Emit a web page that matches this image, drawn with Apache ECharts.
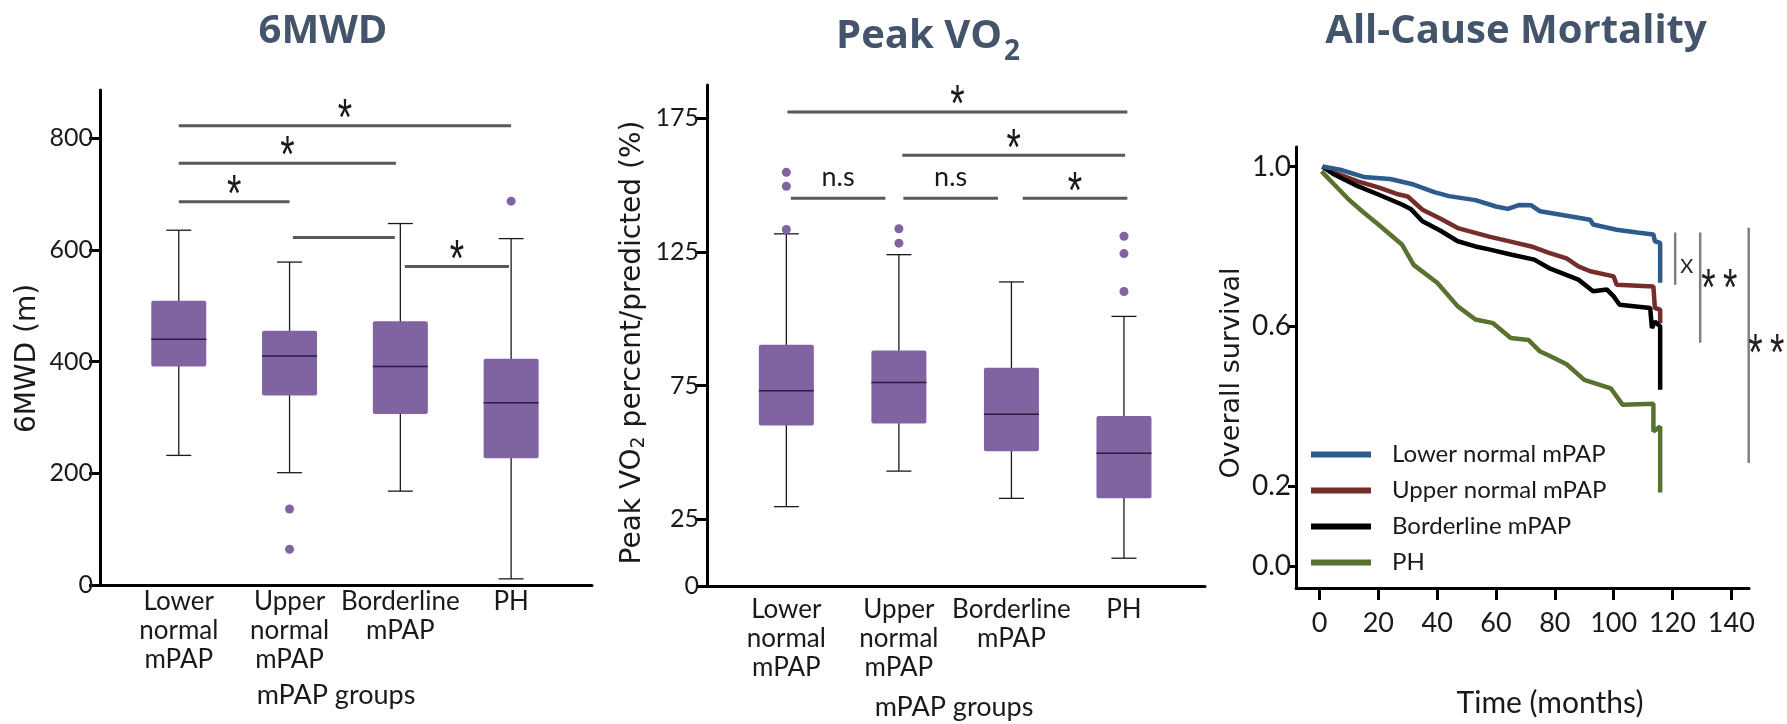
<!DOCTYPE html>
<html>
<head>
<meta charset="utf-8">
<title>6MWD, Peak VO2 and All-Cause Mortality by mPAP group</title>
<script src="https://cdn.jsdelivr.net/npm/echarts@6.0.0/dist/echarts.min.js"></script>
<style>
  html, body { margin: 0; padding: 0; background: #fff; }
  #chart { width: 1787px; height: 724px; }
</style>
</head>
<body>
<div id="chart"></div>
<script>
// ---- data ----
const groups = ["Lower\nnormal\nmPAP", "Upper\nnormal\nmPAP", "Borderline\nmPAP", "PH"];
const groupPos = [0, 1, 2, 3];

// 6MWD: [group, min, Q1, median, Q3, max]
const walkBoxes = [
  [0, 232, 391, 440, 509, 635],
  [1, 201, 339, 410, 455, 578],
  [2, 168, 306, 391, 472, 647],
  [3, 11, 227, 326, 405, 620]
];
const walkOutliers = [[1, 136], [1, 64], [3, 687]];
// significance bars: [from, to, y]
const walkBars = [[0, 3, 822], [0, 1.96, 755], [0, 1, 686], [1.03, 1.95, 622], [2.04, 2.98, 570]];
const walkBarLabels = ["*", "*", "*", "", "*"];
const walkTicks = [0, 200, 400, 600, 800];

// Peak VO2 % predicted
const vo2Boxes = [
  [0, 29.7, 60.1, 73.1, 90.3, 131.8],
  [1, 43, 60.8, 76.2, 88.1, 124],
  [2, 32.8, 50.4, 64.3, 81.7, 113.8],
  [3, 10.4, 32.8, 49.7, 63.6, 100.9]
];
const vo2Outliers = [[0, 133.4], [0, 149.6], [0, 154.8], [1, 133.7], [1, 128.3], [3, 130.9], [3, 124.4], [3, 110.2]];
const vo2Bars = [[0.01, 3.03, 177.4], [1.03, 3.01, 161.2], [0.04, 0.88, 145.1], [1.04, 1.88, 145.1], [2.1, 3.03, 145.1]];
const vo2BarLabels = ["*", "*", "n.s", "n.s", "*"];
const vo2Ticks = [0, 25, 75, 125, 175];

// Kaplan-Meier curves: [months, survival]
const survNames = ["Lower normal mPAP", "Upper normal mPAP", "Borderline mPAP", "PH"];
const survLower = [[1, 1.0], [7, 0.992], [15, 0.974], [24, 0.969], [32, 0.955], [39, 0.936], [44, 0.926], [53, 0.916],
  [60, 0.9], [64, 0.894], [68, 0.904], [72, 0.903], [75, 0.888], [84, 0.877], [92, 0.867], [93, 0.855], [101, 0.842],
  [108, 0.835], [113.5, 0.83], [114, 0.813], [115.8, 0.809], [115.8, 0.709]];
const survUpper = [[1, 1.0], [5, 0.985], [13, 0.963], [20, 0.948], [27, 0.93], [30, 0.925], [35, 0.892], [41, 0.87],
  [47, 0.846], [58, 0.824], [65, 0.812], [72, 0.8], [78, 0.784], [84, 0.77], [88, 0.75], [92, 0.738], [100, 0.725],
  [101, 0.704], [113.5, 0.7], [114, 0.646], [115.8, 0.642], [115.8, 0.608]];
const survBorder = [[1, 1.0], [5, 0.98], [13, 0.951], [20, 0.93], [28, 0.905], [31, 0.894], [35, 0.863], [41, 0.84],
  [47, 0.813], [53, 0.8], [58, 0.792], [65, 0.78], [73, 0.767], [78, 0.746], [88, 0.717], [93, 0.688], [97.7, 0.692],
  [100, 0.675], [102, 0.654], [112.4, 0.646], [113, 0.596], [114, 0.612], [115.8, 0.6], [115.8, 0.441]];
const survPH = [[0.7, 0.988], [5, 0.955], [10, 0.917], [15, 0.885], [20, 0.855], [28, 0.805], [32, 0.754], [40, 0.709],
  [47, 0.65], [53, 0.617], [59, 0.608], [65, 0.571], [71, 0.566], [75, 0.537], [78, 0.527], [84, 0.505], [90, 0.466],
  [99, 0.445], [103, 0.404], [113.5, 0.406], [113.5, 0.337], [115.8, 0.349], [115.8, 0.184]];
const survColors = ["#2d5b8e", "#772c2c", "#000000", "#58722f"];
const survXTicks = [0, 20, 40, 60, 80, 100, 120, 140];
const survYTicks = [0, 0.2, 0.6, 1.0];
// comparison brackets: [x, yTop, yBottom, labelX, labelY]
const survBrackets = [[120.9, 0.835, 0.704, 124.8, 0.75], [129.4, 0.835, 0.559, 135.9, 0.717], [145.9, 0.847, 0.258, 151.9, 0.554]];
const survBracketLabels = ["X", "*\u2009*", "*\u2009*"];

// ---- chart ----
const TXT = "Lato, 'Liberation Sans', sans-serif";
const WIDE = "'DejaVu Sans', sans-serif";
const TITLE_COLOR = "#44546a";
const BOX_COLOR = "#8064a2";
const INK = "#1a1a1a";

const chart = echarts.init(document.getElementById("chart"));

function boxItem(params, api) {
  const x = api.value(0);
  const lo = api.coord([x, api.value(1)]);
  const q1 = api.coord([x, api.value(2)]);
  const md = api.coord([x, api.value(3)]);
  const q3 = api.coord([x, api.value(4)]);
  const hi = api.coord([x, api.value(5)]);
  const cx = lo[0], bw = 55, cw = 25;
  const st = { stroke: INK, lineWidth: 1.3 };
  return {
    type: "group",
    children: [
      { type: "line", shape: { x1: cx, y1: lo[1], x2: cx, y2: hi[1] }, style: st },
      { type: "line", shape: { x1: cx - cw / 2, y1: lo[1], x2: cx + cw / 2, y2: lo[1] }, style: st },
      { type: "line", shape: { x1: cx - cw / 2, y1: hi[1], x2: cx + cw / 2, y2: hi[1] }, style: st },
      { type: "rect", shape: { x: cx - bw / 2, y: q3[1], width: bw, height: q1[1] - q3[1], r: 2 }, style: { fill: BOX_COLOR } },
      { type: "line", shape: { x1: cx - bw / 2, y1: md[1], x2: cx + bw / 2, y2: md[1] }, style: { stroke: "#2b1d3d", lineWidth: 1.5 } }
    ]
  };
}

function barItem(labels) {
  return function (params, api) {
    const a = api.coord([api.value(0), api.value(2)]);
    const b = api.coord([api.value(1), api.value(2)]);
    const t = labels[params.dataIndex];
    const star = t.indexOf("*") >= 0;
    return {
      type: "group",
      children: [
        { type: "line", shape: { x1: a[0], y1: a[1], x2: b[0], y2: b[1] }, style: { stroke: "#595959", lineWidth: 3 } },
        {
          type: "text", x: (a[0] + b[0]) / 2, y: a[1] - (star ? 5 : 21), scaleY: star ? 1.4 : 1,
          style: { text: t, fill: INK, font: star ? "37px 'Liberation Sans'" : "27px " + TXT, align: "center", verticalAlign: "middle" }
        }
      ]
    };
  };
}

function bracketItem(params, api) {
  const a = api.coord([api.value(0), api.value(1)]);
  const b = api.coord([api.value(0), api.value(2)]);
  const l = api.coord([api.value(3), api.value(4)]);
  const t = survBracketLabels[params.dataIndex];
  const star = t.indexOf("*") >= 0;
  return {
    type: "group",
    children: [
      { type: "line", shape: { x1: a[0], y1: a[1], x2: b[0], y2: b[1] }, style: { stroke: "#808080", lineWidth: 2.5 } },
      {
        type: "text", x: l[0], y: l[1] + (star ? 11 : 0), scaleY: star ? 1.4 : 1,
        style: { text: t, fill: "#222", font: star ? "37px 'Liberation Sans'" : "20px " + TXT, align: "center", verticalAlign: "middle" }
      }
    ]
  };
}

const tickLabel = { fontFamily: TXT, fontSize: 25, color: INK };

function catXAxis(gridIndex, min, max, nameGap, namePad) {
  return {
    type: "value", gridIndex: gridIndex, min: min, max: max,
    name: "mPAP groups", nameLocation: "middle", nameGap: nameGap,
    nameTextStyle: { fontFamily: TXT, fontSize: 27, color: INK, padding: namePad },
    axisLine: { show: true, onZero: false, lineStyle: { color: "#000", width: 3 } },
    axisTick: { show: false },
    splitLine: { show: false },
    axisLabel: {
      customValues: groupPos, margin: gridIndex === 0 ? 2 : 9,
      fontFamily: TXT, fontSize: 26, lineHeight: 29, color: INK,
      formatter: function (v) { return groups[Math.round(v)]; }
    }
  };
}

chart.setOption({
  animation: false,
  backgroundColor: "#fff",
  title: [
    { text: "6MWD", left: 318, top: 7, textAlign: "center",
      textStyle: { fontFamily: "Open Sans", fontWeight: "bold", fontSize: 40, color: TITLE_COLOR } },
    { text: "{n|Peak VO}{s|2}", left: 923, top: 7, textAlign: "center",
      textStyle: { rich: {
        n: { fontFamily: "Open Sans", fontWeight: "bold", fontSize: 40, color: TITLE_COLOR, lineHeight: 50 },
        s: { fontFamily: "Open Sans", fontWeight: "bold", fontSize: 28, color: TITLE_COLOR, lineHeight: 50, padding: [30, 0, 0, 2] }
      } } },
    { text: "All-Cause Mortality", left: 1511, top: 7, textAlign: "center",
      textStyle: { fontFamily: "Open Sans", fontWeight: "bold", fontSize: 40, color: TITLE_COLOR } }
  ],
  grid: [
    { left: 100, top: 90, width: 492, height: 495, outerBoundsMode: "none" },
    { left: 707, top: 85, width: 498, height: 501, outerBoundsMode: "none" },
    { left: 1296, top: 147, width: 453, height: 441, outerBoundsMode: "none" }
  ],
  xAxis: [
    catXAxis(0, -0.711, 3.73, 97, [0, 20, 0, 0]),
    catXAxis(1, -0.705, 3.72, 108, [0, 4, 0, 0]),
    {
      type: "value", gridIndex: 2, min: -8, max: 146,
      name: "Time (months)", nameLocation: "middle", nameGap: 100,
      nameTextStyle: { fontFamily: TXT, fontSize: 30, color: INK, padding: [0, 0, 0, 55] },
      axisLine: { show: true, onZero: false, lineStyle: { color: "#000", width: 3 } },
      axisTick: { show: true, customValues: survXTicks, length: 12, lineStyle: { color: "#000", width: 3 } },
      axisLabel: { customValues: survXTicks, margin: 22, fontFamily: TXT, fontSize: 27, color: INK },
      splitLine: { show: false }
    }
  ],
  yAxis: [
    {
      type: "value", gridIndex: 0, min: 0, max: 886,
      name: "6MWD (m)", nameLocation: "middle", nameRotate: 90, nameGap: 58,
      nameTextStyle: { fontFamily: WIDE, fontSize: 28, color: INK, padding: [0, 42, 0, 0] },
      axisLine: { show: true, onZero: false, lineStyle: { color: "#000", width: 3 } },
      axisTick: { show: true, customValues: walkTicks, length: 11, lineStyle: { color: "#000", width: 3 } },
      axisLabel: Object.assign({ customValues: walkTicks, margin: 7 }, tickLabel),
      splitLine: { show: false }
    },
    {
      type: "value", gridIndex: 1, min: 0, max: 187.5,
      name: "Peak VO{s|2} percent/predicted (%)", nameLocation: "middle", nameRotate: 90, nameGap: 58,
      nameTextStyle: { fontFamily: WIDE, fontSize: 28, color: INK, padding: [0, 14, 0, 0],
        rich: { s: { fontFamily: WIDE, fontSize: 19, color: INK, padding: [14, 0, 0, 0] } } },
      axisLine: { show: true, onZero: false, lineStyle: { color: "#000", width: 3 } },
      axisTick: { show: true, customValues: vo2Ticks, length: 11, lineStyle: { color: "#000", width: 3 } },
      axisLabel: Object.assign({ customValues: vo2Ticks, margin: 8 }, tickLabel),
      splitLine: { show: false }
    },
    {
      type: "value", gridIndex: 2, min: -0.055, max: 1.049,
      name: "Overall survival", nameLocation: "middle", nameRotate: 90, nameGap: 51,
      nameTextStyle: { fontFamily: WIDE, fontSize: 27, color: INK, padding: [0, 11, 0, 0] },
      axisLine: { show: true, onZero: false, lineStyle: { color: "#000", width: 3 } },
      axisTick: { show: true, customValues: survYTicks, length: 8, lineStyle: { color: "#000", width: 3 } },
      axisLabel: { customValues: survYTicks, margin: 5, fontFamily: TXT, fontSize: 28, color: INK,
        formatter: function (v) { return v.toFixed(1); } },
      splitLine: { show: false }
    }
  ],
  legend: {
    data: survNames, orient: "vertical", left: 1306, top: 436,
    icon: "rect", itemWidth: 60, itemHeight: 6, itemGap: 9,
    textStyle: { fontFamily: TXT, fontSize: 24, lineHeight: 27, color: INK, padding: [0, 0, 0, 16] }
  },
  series: [
    { type: "custom", xAxisIndex: 0, yAxisIndex: 0, renderItem: boxItem, data: walkBoxes, encode: { x: 0, y: [1, 2, 3, 4, 5] }, z: 2 },
    { type: "scatter", xAxisIndex: 0, yAxisIndex: 0, data: walkOutliers, symbolSize: 9, itemStyle: { color: BOX_COLOR, opacity: 1 }, z: 3 },
    { type: "custom", xAxisIndex: 0, yAxisIndex: 0, renderItem: barItem(walkBarLabels), data: walkBars, encode: { x: [0, 1], y: 2 }, z: 3 },

    { type: "custom", xAxisIndex: 1, yAxisIndex: 1, renderItem: boxItem, data: vo2Boxes, encode: { x: 0, y: [1, 2, 3, 4, 5] }, z: 2 },
    { type: "scatter", xAxisIndex: 1, yAxisIndex: 1, data: vo2Outliers, symbolSize: 9, itemStyle: { color: BOX_COLOR, opacity: 1 }, z: 3 },
    { type: "custom", xAxisIndex: 1, yAxisIndex: 1, renderItem: barItem(vo2BarLabels), data: vo2Bars, encode: { x: [0, 1], y: 2 }, z: 3 },

    { name: survNames[0], type: "line", xAxisIndex: 2, yAxisIndex: 2, data: survLower, showSymbol: false, color: survColors[0], lineStyle: { width: 4.5, color: survColors[0] }, z: 4 },
    { name: survNames[1], type: "line", xAxisIndex: 2, yAxisIndex: 2, data: survUpper, showSymbol: false, color: survColors[1], lineStyle: { width: 4.5, color: survColors[1] }, z: 3 },
    { name: survNames[2], type: "line", xAxisIndex: 2, yAxisIndex: 2, data: survBorder, showSymbol: false, color: survColors[2], lineStyle: { width: 4.5, color: survColors[2] }, z: 3 },
    { name: survNames[3], type: "line", xAxisIndex: 2, yAxisIndex: 2, data: survPH, showSymbol: false, color: survColors[3], lineStyle: { width: 4.5, color: survColors[3] }, z: 3 },
    { type: "custom", xAxisIndex: 2, yAxisIndex: 2, renderItem: bracketItem, data: survBrackets, encode: { x: 0, y: [1, 2] }, clip: false, z: 3 }
  ]
});
</script>
</body>
</html>
